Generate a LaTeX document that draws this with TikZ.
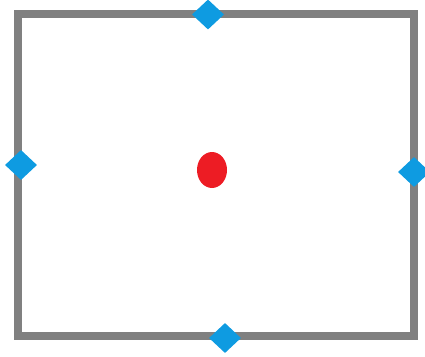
\documentclass[tikz,border=0pt]{standalone}
\usetikzlibrary{shapes.geometric}
\definecolor{framegray}{RGB}{128,128,128}
\definecolor{dblue}{RGB}{14,155,225}
\definecolor{dred}{RGB}{237,28,36}
\tikzset{
  handle/.style={diamond, fill=dblue, draw=none, inner sep=0pt, minimum width=32pt, minimum height=30pt},
  centre/.style={ellipse, fill=dred, draw=none, inner sep=0pt, minimum width=30pt, minimum height=36pt},
  framebox/.style={draw=framegray, line width=8pt, inner sep=0pt, minimum width=396pt, minimum height=322pt}
}
\begin{document}
\begin{tikzpicture}[x=1pt,y=-1pt]
\useasboundingbox (0,0) rectangle (425,356);
\node[framebox] (frame) at (215.5,175) {};
\node[handle] (top) at (208,14.5) {};
\node[handle] (left) at (21,165) {};
\node[handle] (right) at (414,172) {};
\node[handle] (bottom) at (225,338) {};
\node[centre] (c) at (212,170) {};
\end{tikzpicture}
\end{document}
